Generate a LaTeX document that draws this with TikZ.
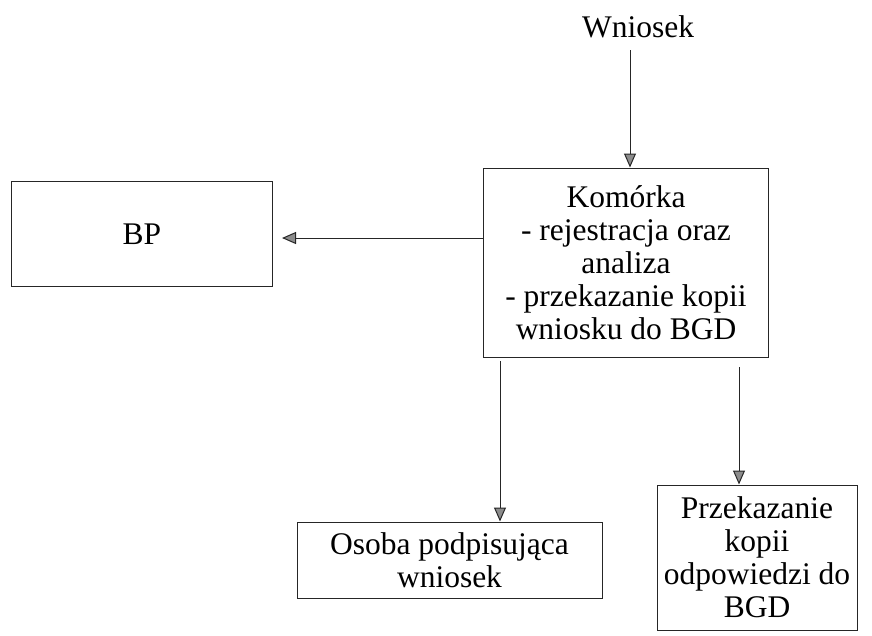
\documentclass[tikz,border=0pt]{standalone}
\usepackage{fontspec}
\setmainfont{Liberation Serif}
\usetikzlibrary{arrows.meta,calc}
\begin{document}
\begin{tikzpicture}[x=1pt,y=-1pt,
  box/.style={draw=black!85, line width=1pt, inner sep=0pt, align=center,
    font=\fontsize{31.5}{33}\selectfont},
  lbl/.style={inner sep=0pt, font=\fontsize{31.5}{33}\selectfont},
  arr/.style={draw=black!85, line width=1pt,
    -{Triangle[width=12pt,length=14pt,fill=black!45]}}]
\useasboundingbox (0,0) rectangle (872,635);
\node[lbl] (W) at (638,27) {Wniosek};
\node[box, minimum width=261pt, minimum height=105pt] (BP) at (142,234) {BP};
\node[box, minimum width=285pt, minimum height=189pt] (K) at (626,262.5)
  {Komórka\\ - rejestracja oraz\\ analiza\\ - przekazanie kopii\\ wniosku do BGD};
\node[box, minimum width=305pt, minimum height=76pt] (O) at (449.5,560)
  {Osoba podpisująca\\ wniosek};
\node[box, minimum width=200pt, minimum height=145pt] (P) at (757,557.5)
  {Przekazanie\\ kopii\\ odpowiedzi do\\ BGD};
\coordinate (w1) at (630,50);
\draw[arr] (w1) -- (w1 |- K.north);
\coordinate (k1) at (K.west |- 0,238);
\coordinate (b1) at ($(BP.east |- k1)+(9,0)$);
\draw[arr] (k1) -- (b1);
\coordinate (k2) at (500,361);
\draw[arr] (k2) -- (k2 |- O.north);
\coordinate (k3) at (739,367);
\draw[arr] (k3) -- (k3 |- P.north);
\end{tikzpicture}
\end{document}
